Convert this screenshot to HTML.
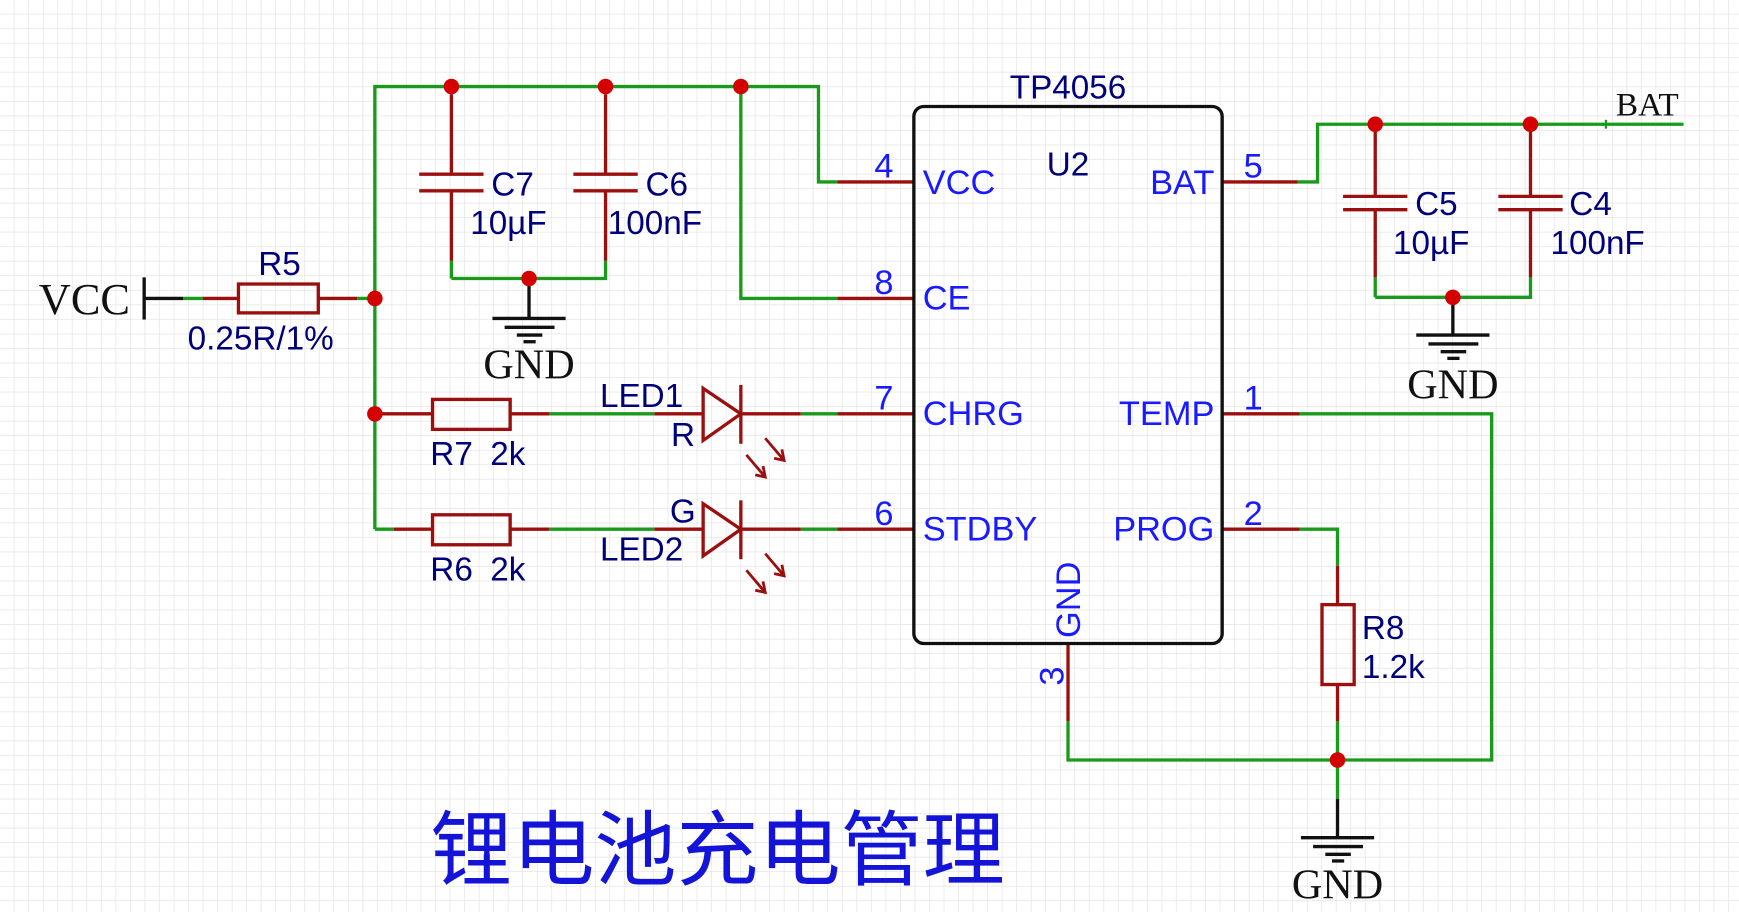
<!DOCTYPE html>
<html><head><meta charset="utf-8"><style>
html,body{margin:0;padding:0;background:#fff;}
svg{display:block;}
.n{fill:#00007a;font-size:30px;font-family:"Liberation Sans",sans-serif;}
.p{fill:#1a1aff;font-size:31px;font-family:"Liberation Sans",sans-serif;}
.g{fill:#111;font-size:38px;font-family:"Liberation Serif",serif;}
</style></head><body>
<svg width="1739" height="912" viewBox="0 0 1568 822" preserveAspectRatio="none" xmlns="http://www.w3.org/2000/svg">
<defs>
<pattern id="grid" width="13.1" height="13.1" patternUnits="userSpaceOnUse">
<path d="M13.1 0V13.1H0" fill="none" stroke="#e4e4e4" stroke-width="1.3"/>
</pattern>
</defs>
<rect width="1568" height="822" fill="#fff"/>
<rect width="1568" height="822" fill="url(#grid)"/>

<g fill="none" stroke-width="3">
<g stroke="#1a9a1a">
<polyline points="338,477 338,78 738,78 738,164 755,164"/>
<polyline points="668,78 668,269 755,269"/>
<line x1="322" y1="269" x2="338" y2="269"/>
<line x1="165" y1="269" x2="183" y2="269"/>
<line x1="407" y1="235" x2="407" y2="251"/>
<polyline points="407,251 546,251 546,235"/>
<line x1="495" y1="373" x2="590" y2="373"/>
<line x1="495" y1="477" x2="590" y2="477"/>
<line x1="338" y1="477" x2="355" y2="477"/>
<line x1="722" y1="373" x2="755" y2="373"/>
<line x1="722" y1="477" x2="755" y2="477"/>
<polyline points="1170,164 1188,164 1188,112 1518,112"/>
<line x1="1240" y1="250" x2="1240" y2="268"/>
<polyline points="1240,268 1380,268 1380,250"/>
<polyline points="1172,373 1345,373 1345,685 963,685 963,650"/>
<polyline points="1172,477 1206,477 1206,510"/>
<line x1="1206" y1="650" x2="1206" y2="720"/>
</g>
<g stroke="#9b0f0f">
<line x1="183" y1="269" x2="215" y2="269"/>
<line x1="287" y1="269" x2="322" y2="269"/>
<rect x="215" y="256" width="72" height="26"/>
<line x1="407" y1="85" x2="407" y2="157"/><line x1="407" y1="172" x2="407" y2="235"/>
<line x1="378" y1="157" x2="436" y2="157"/><line x1="378" y1="172" x2="436" y2="172"/>
<line x1="546" y1="85" x2="546" y2="157"/><line x1="546" y1="172" x2="546" y2="235"/>
<line x1="517" y1="157" x2="575" y2="157"/><line x1="517" y1="172" x2="575" y2="172"/>
<line x1="755" y1="164" x2="824" y2="164"/>
<line x1="755" y1="269" x2="824" y2="269"/>
<line x1="755" y1="373" x2="824" y2="373"/>
<line x1="755" y1="477" x2="824" y2="477"/>
<line x1="338" y1="373" x2="390" y2="373"/><rect x="390" y="360" width="70" height="27"/><line x1="460" y1="373" x2="495" y2="373"/>
<line x1="355" y1="477" x2="390" y2="477"/><rect x="390" y="464" width="70" height="27"/><line x1="460" y1="477" x2="495" y2="477"/>
<line x1="590" y1="373" x2="634" y2="373"/><polygon points="634,350 668,373 634,397"/><line x1="668" y1="347" x2="668" y2="400"/><line x1="668" y1="373" x2="722" y2="373"/>
<line x1="590" y1="477" x2="634" y2="477"/><polygon points="634,454 668,477 634,501"/><line x1="668" y1="451" x2="668" y2="504"/><line x1="668" y1="477" x2="722" y2="477"/>
<g stroke-width="2.5">
<line x1="690" y1="395" x2="707" y2="415"/><polyline points="698,413 707,415 705,405"/>
<line x1="673" y1="410" x2="690" y2="430"/><polyline points="681,428 690,430 688,420"/>
<line x1="690" y1="499" x2="707" y2="519"/><polyline points="698,517 707,519 705,509"/>
<line x1="673" y1="514" x2="690" y2="534"/><polyline points="681,532 690,534 688,524"/>
</g>
<line x1="1102" y1="164" x2="1170" y2="164"/>
<line x1="1102" y1="373" x2="1172" y2="373"/>
<line x1="1102" y1="477" x2="1172" y2="477"/>
<line x1="963" y1="580" x2="963" y2="650"/>
<line x1="1240" y1="118" x2="1240" y2="177"/><line x1="1240" y1="189" x2="1240" y2="250"/>
<line x1="1211" y1="177" x2="1269" y2="177"/><line x1="1211" y1="189" x2="1269" y2="189"/>
<line x1="1380" y1="118" x2="1380" y2="177"/><line x1="1380" y1="189" x2="1380" y2="250"/>
<line x1="1351" y1="177" x2="1409" y2="177"/><line x1="1351" y1="189" x2="1409" y2="189"/>
<line x1="1206" y1="510" x2="1206" y2="545"/><rect x="1192" y="545" width="29" height="72"/><line x1="1206" y1="617" x2="1206" y2="650"/>
</g>
<g stroke="#111">
<line x1="130" y1="250" x2="130" y2="288"/><line x1="130" y1="269" x2="165" y2="269"/>
<line x1="477" y1="251" x2="477" y2="287"/>
<line x1="444" y1="287" x2="510" y2="287"/><line x1="455" y1="295" x2="500" y2="295"/><line x1="466" y1="302" x2="489" y2="302"/><line x1="472" y1="308" x2="483" y2="308"/>
<line x1="1310" y1="268" x2="1310" y2="302"/>
<line x1="1277" y1="302" x2="1343" y2="302"/><line x1="1288" y1="310" x2="1333" y2="310"/><line x1="1299" y1="317" x2="1322" y2="317"/><line x1="1305" y1="323" x2="1316" y2="323"/>
<line x1="1206" y1="720" x2="1206" y2="755"/>
<line x1="1173" y1="755" x2="1239" y2="755"/><line x1="1184" y1="763" x2="1229" y2="763"/><line x1="1195" y1="770" x2="1218" y2="770"/><line x1="1201" y1="776" x2="1212" y2="776"/>
<rect x="824" y="96" width="278" height="484" rx="9" ry="9"/>
</g>
<line x1="1448" y1="108" x2="1448" y2="116" stroke="#1a9a1a" stroke-width="2"/>
</g>
<g fill="#d40000">
<circle cx="407" cy="78" r="7"/><circle cx="546" cy="78" r="7"/><circle cx="668" cy="78" r="7"/>
<circle cx="338" cy="269" r="7"/><circle cx="338" cy="373" r="7"/><circle cx="477" cy="251" r="7"/>
<circle cx="1240" cy="112" r="7"/><circle cx="1380" cy="112" r="7"/><circle cx="1310" cy="268" r="7"/>
<circle cx="1206" cy="685" r="7"/>
</g>

<text x="35" y="283" class="g" style="font-size:40px">VCC</text>
<text x="252" y="248" class="n" text-anchor="middle">R5</text>
<text x="235" y="315" class="n" text-anchor="middle">0.25R/1%</text>
<text x="443" y="176" class="n">C7</text>
<text x="424" y="211" class="n">10µF</text>
<text x="582" y="176" class="n">C6</text>
<text x="548" y="211" class="n">100nF</text>
<text x="477" y="341" class="g" text-anchor="middle">GND</text>
<text x="541" y="367" class="n">LED1</text>
<text x="605" y="402" class="n">R</text>
<text x="388" y="419" class="n">R7</text><text x="442" y="419" class="n">2k</text>
<text x="604" y="471" class="n">G</text>
<text x="541" y="505" class="n">LED2</text>
<text x="388" y="523" class="n">R6</text><text x="442" y="523" class="n">2k</text>

<text x="963" y="89" class="n" text-anchor="middle">TP4056</text>
<text x="963" y="158" class="n" text-anchor="middle">U2</text>
<text x="832" y="175" class="p">VCC</text>
<text x="832" y="279" class="p">CE</text>
<text x="832" y="383" class="p">CHRG</text>
<text x="832" y="487" class="p">STDBY</text>
<text x="1095" y="175" class="p" text-anchor="end">BAT</text>
<text x="1095" y="383" class="p" text-anchor="end">TEMP</text>
<text x="1095" y="487" class="p" text-anchor="end">PROG</text>
<text transform="translate(974,575) rotate(-90)" class="p">GND</text>
<text x="797" y="160" class="p" text-anchor="middle">4</text>
<text x="797" y="265" class="p" text-anchor="middle">8</text>
<text x="797" y="369" class="p" text-anchor="middle">7</text>
<text x="797" y="473" class="p" text-anchor="middle">6</text>
<text x="1130" y="160" class="p" text-anchor="middle">5</text>
<text x="1130" y="369" class="p" text-anchor="middle">1</text>
<text x="1130" y="473" class="p" text-anchor="middle">2</text>
<text transform="translate(959,618) rotate(-90)" class="p">3</text>

<text x="1457" y="104" class="g" style="font-size:30px">BAT</text>
<text x="1276" y="194" class="n">C5</text>
<text x="1256" y="229" class="n">10µF</text>
<text x="1415" y="194" class="n">C4</text>
<text x="1398" y="229" class="n">100nF</text>
<text x="1310" y="359" class="g" text-anchor="middle">GND</text>
<text x="1228" y="576" class="n">R8</text>
<text x="1228" y="611" class="n">1.2k</text>
<text x="1206" y="810" class="g" text-anchor="middle">GND</text>

<text x="388" y="792" style="font-family:'Liberation Sans','Noto Sans CJK SC',sans-serif;font-size:74px;fill:#1414d8">锂电池充电管理</text>
</svg>
</body></html>
